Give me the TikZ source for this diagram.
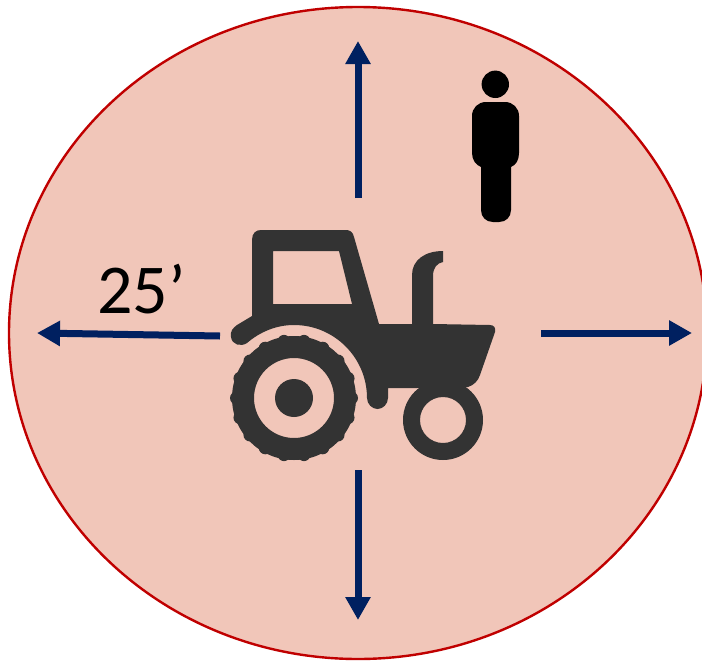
\documentclass[tikz,border=0pt]{standalone}
\usepackage{fontspec}
\setmainfont{Carlito}
\usetikzlibrary{arrows.meta}
\definecolor{zonefill}{HTML}{F1C6B9}
\definecolor{zoneline}{HTML}{C00000}
\definecolor{arrowblue}{HTML}{002060}
\definecolor{tractorgrey}{HTML}{333333}
\tikzset{
  reach/.style={draw=arrowblue,line width=7pt,-{Triangle[length=23pt,width=24pt,fill=arrowblue]}},
  tractorpart/.style={fill=tractorgrey},
  personpart/.style={fill=black},
  labeltext/.style={font=\fontsize{70}{70}\selectfont,text=black,anchor=base west,inner sep=0pt}
}
\begin{document}
\begin{tikzpicture}[x=1pt,y=-1pt]
\useasboundingbox (0,0) rectangle (702,662);
\clip (0,0) rectangle (702,662);
\fill[white] (0,0) rectangle (702,662);
% hazard zone
\filldraw[fill=zonefill,draw=zoneline,line width=2.4pt] (358,333) ellipse [x radius=349pt,y radius=326pt];
% arrows
\coordinate (upstart) at (358,198);
\coordinate (upend) at (358,41);
\coordinate (downstart) at (358,470);
\coordinate (downend) at (358,620);
\coordinate (leftstart) at (220,336);
\coordinate (leftend) at (37,333);
\coordinate (rightstart) at (541,333);
\coordinate (rightend) at (692,333);
\draw[reach] (upstart) -- (upend);
\draw[reach] (downstart) -- (downend);
\draw[reach] (leftstart) -- (leftend);
\draw[reach] (rightstart) -- (rightend);
% tractor body
\fill[tractorpart,even odd rule]
  (252,240) .. controls (252,233) and (256,230) .. (261,230)
  -- (346,230) .. controls (350,230) and (353,232) .. (354,237)
  -- (379,324) -- (412,324) -- (412,275)
  .. controls (412,260) and (425,251) .. (443,251)
  -- (443,262) .. controls (437,263) and (433,268) .. (433,276)
  -- (433,324) -- (490,325) .. controls (494,325) and (496,328) .. (495,332)
  -- (480,375) .. controls (478,381) and (474,385) .. (468,387)
  -- (417,388) -- (388,388) -- (388,398)
  .. controls (388,404) and (383,409) .. (377.5,409)
  .. controls (372,409) and (367,404) .. (367,398)
  .. controls (367,357.7) and (334.3,325) .. (294,325)
  .. controls (276.6,325) and (260.3,331.6) .. (247,343)
  .. controls (241,347) and (232,345) .. (231,337)
  .. controls (230,331) and (233,328) .. (237,325)
  -- (252,316) -- cycle
  (273,251) -- (339,251) -- (352,304) -- (273,304) -- cycle;
% rear wheel
\fill[tractorpart,even odd rule] (294,398) circle [radius=62pt] (294,398) circle [radius=40pt];
\foreach \a in {0,20,...,350} {
  \fill[tractorpart] ({294+57.5*cos(\a)},{398+57.5*sin(\a)}) circle [radius=6.5pt];
}
\fill[tractorpart] (294,398) circle [radius=19pt];
% front wheel
\fill[tractorpart,even odd rule] (443,420) circle [radius=40pt] (443,420) circle [radius=23pt];
% person
\fill[personpart] (495.3,84.3) circle [radius=13.7pt];
\fill[personpart]
  (472,116) .. controls (472,108) and (478,102) .. (486,102)
  -- (505,102) .. controls (513,102) and (519,108) .. (519,116)
  -- (519,153) .. controls (519,160) and (516,165) .. (511,167)
  -- (511,210) .. controls (511,217) and (506,222) .. (499,222)
  -- (493,222) .. controls (486,222) and (481,217) .. (481,210)
  -- (481,167) .. controls (476,165) and (472,160) .. (472,153) -- cycle;
% label
\node[labeltext] (distlabel) at (97,313) {25’};
\end{tikzpicture}
\end{document}
